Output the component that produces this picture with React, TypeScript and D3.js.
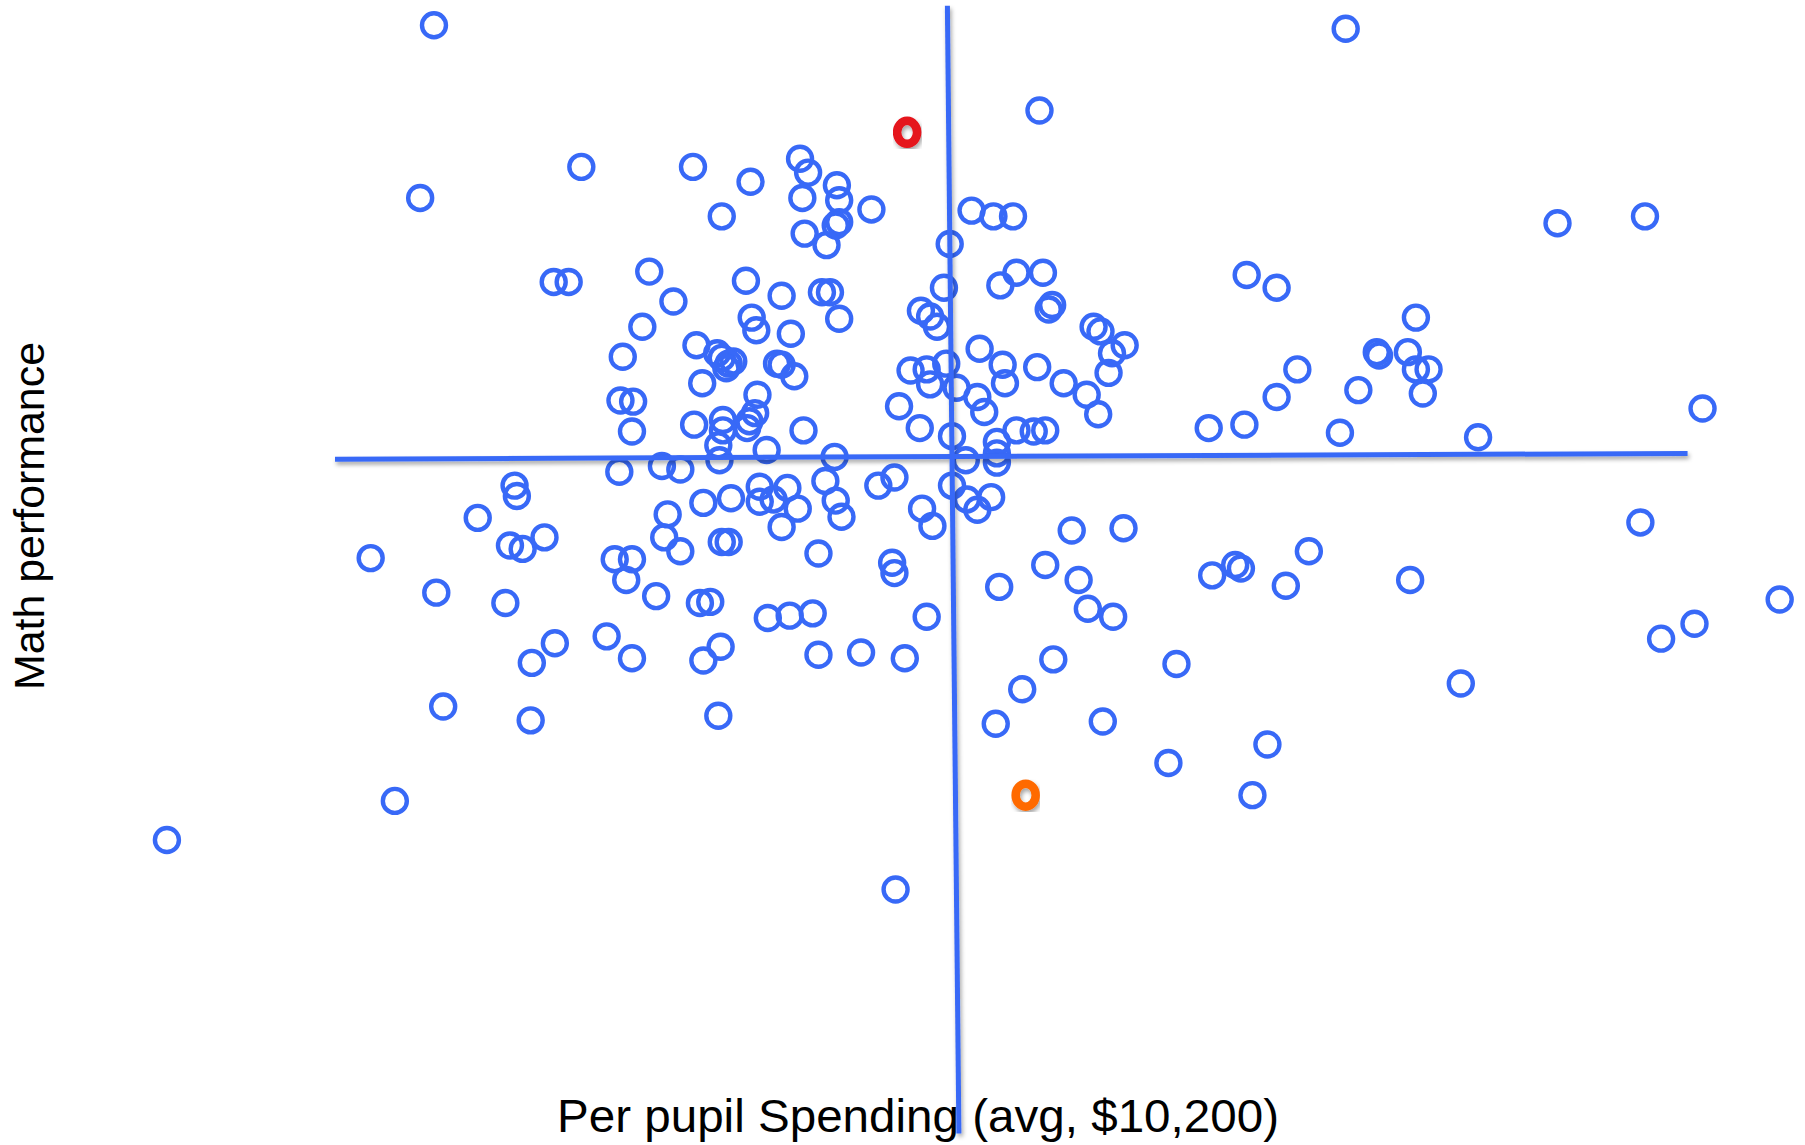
import * as d3 from 'd3'

// readings (spending position, math position; y grows downward)
const schools: [number, number][] = [
  [377, 22], [1169, 25], [903, 96], [505, 145], [602, 145], [695, 138], [702, 150], [652, 158],
  [727, 161], [365, 172], [697, 172], [729, 174], [757, 182], [627, 188], [729, 193], [726, 196],
  [699, 203], [718, 213], [844, 183], [863, 188], [880, 188], [825, 212], [1353, 194], [1429, 188],
  [481, 245], [494, 245], [564, 236], [585, 262], [558, 284], [541, 310], [648, 244], [679, 257],
  [714, 254], [721, 254], [729, 277], [653, 276], [657, 287], [687, 290], [820, 250], [800, 270],
  [808, 275], [814, 284], [869, 248], [883, 237], [906, 237], [911, 269], [914, 265], [1083, 239],
  [1109, 250], [1230, 276],
  [605, 300], [623, 307], [627, 311], [633, 316], [637, 314], [631, 320], [610, 333], [675, 316],
  [679, 317], [690, 327], [539, 348], [550, 349], [549, 375], [658, 343], [656, 359], [651, 366],
  [649, 372], [603, 369], [628, 365], [628, 374], [624, 387], [625, 400], [666, 391], [698, 374],
  [725, 397],
  [791, 322], [805, 321], [808, 334], [822, 316], [831, 337], [781, 353], [799, 372], [827, 379],
  [839, 400], [851, 303], [871, 317], [873, 333], [849, 345], [855, 358], [901, 319], [924, 333],
  [944, 343], [954, 360], [883, 374], [898, 375], [908, 374], [866, 384], [866, 394], [866, 402],
  [950, 284], [956, 288], [977, 300], [966, 307], [963, 324],
  [1050, 372], [1081, 369], [1109, 345], [1127, 321], [1164, 376], [1180, 339], [1196, 306],
  [1198, 309], [1223, 306], [1230, 321], [1241, 321], [1236, 342], [1284, 380], [1479, 355],
  [538, 410], [575, 405], [591, 408], [447, 422], [449, 431], [415, 450], [443, 474], [454, 477],
  [473, 467], [322, 485], [379, 515], [439, 524], [482, 559], [462, 576], [527, 553], [549, 572],
  [385, 614], [461, 626], [624, 622], [611, 574], [626, 562], [534, 486], [549, 486], [544, 504],
  [570, 518], [608, 524], [617, 523], [667, 537], [686, 535], [706, 533], [711, 569], [748, 567],
  [786, 572], [805, 536], [711, 481], [775, 489], [777, 498],
  [611, 437], [635, 433], [660, 423], [660, 436], [672, 434], [684, 424], [693, 442], [679, 458],
  [580, 447], [577, 467], [591, 479], [627, 471], [633, 471], [717, 418], [726, 435], [731, 449],
  [763, 422], [777, 415], [801, 442], [810, 457], [827, 422], [840, 434], [849, 443], [861, 432],
  [931, 461], [976, 459], [908, 491], [937, 504], [868, 510], [945, 529], [967, 536], [1053, 500],
  [1073, 491], [1078, 494], [1117, 509], [1137, 479], [1225, 504], [1425, 454], [1546, 521],
  [1443, 555], [1472, 542], [1269, 594], [915, 573], [888, 599], [865, 629], [958, 627], [1022, 577],
  [1015, 663], [1101, 647], [1088, 691],
  [343, 696], [145, 730], [778, 773]
]

const highlighted = [
  { x: 788, y: 115, color: '#e5121a' },
  { x: 891, y: 691, color: '#ff6a00' }
]

// average lines (slightly hand drawn)
const avgSpendingLine: [number, number][] = [[823, 5], [833, 985]]
const avgMathLine: [number, number][] = [[291, 399], [1466, 394]]

const xLabel = 'Per pupil Spending (avg, $10,200)'
const yLabel = 'Math performance'

const W = 1805
const H = 1145
const blue = '#3869f7'

export default function App() {
  const x = d3.scaleLinear().domain([0, 1568]).range([0, W])
  const y = d3.scaleLinear().domain([0, 995]).range([0, H])
  const line = d3.line<[number, number]>().x(d => x(d[0])).y(d => y(d[1]))

  return (
    <svg
      width={W}
      height={H}
      style={{ position: 'absolute', left: 0, top: 0, background: '#fff' }}
      fontFamily="'Liberation Sans', Arial, sans-serif"
    >
      <defs>
        <filter id="shadow" x="-20%" y="-20%" width="140%" height="140%">
          <feDropShadow dx="1.5" dy="3" stdDeviation="2" floodColor="#000" floodOpacity="0.35" />
        </filter>
      </defs>

      {/* axis labels */}
      <text x={557} y={1132} fontSize={47} fill="#000" textLength={722} lengthAdjust="spacingAndGlyphs">
        {xLabel}
      </text>
      <text
        transform="translate(44, 516) rotate(-90)"
        textAnchor="middle"
        fontSize={42}
        fill="#000"
        textLength={348}
        lengthAdjust="spacingAndGlyphs"
      >
        {yLabel}
      </text>

      {/* schools */}
      <g fill="none" stroke={blue} strokeWidth={4.4}>
        {schools.map((d, i) => (
          <circle key={i} cx={x(d[0])} cy={y(d[1])} r={12} />
        ))}
      </g>

      {/* average lines */}
      <g fill="none" stroke={blue} strokeWidth={5} filter="url(#shadow)">
        <path d={line(avgMathLine) || ''} />
        <path d={line(avgSpendingLine) || ''} />
      </g>

      {/* highlighted schools */}
      {highlighted.map((d, i) => (
        <ellipse
          key={i}
          cx={x(d.x)}
          cy={y(d.y)}
          rx={10}
          ry={11.5}
          fill="none"
          stroke={d.color}
          strokeWidth={8.5}
          filter="url(#shadow)"
        />
      ))}
    </svg>
  )
}
